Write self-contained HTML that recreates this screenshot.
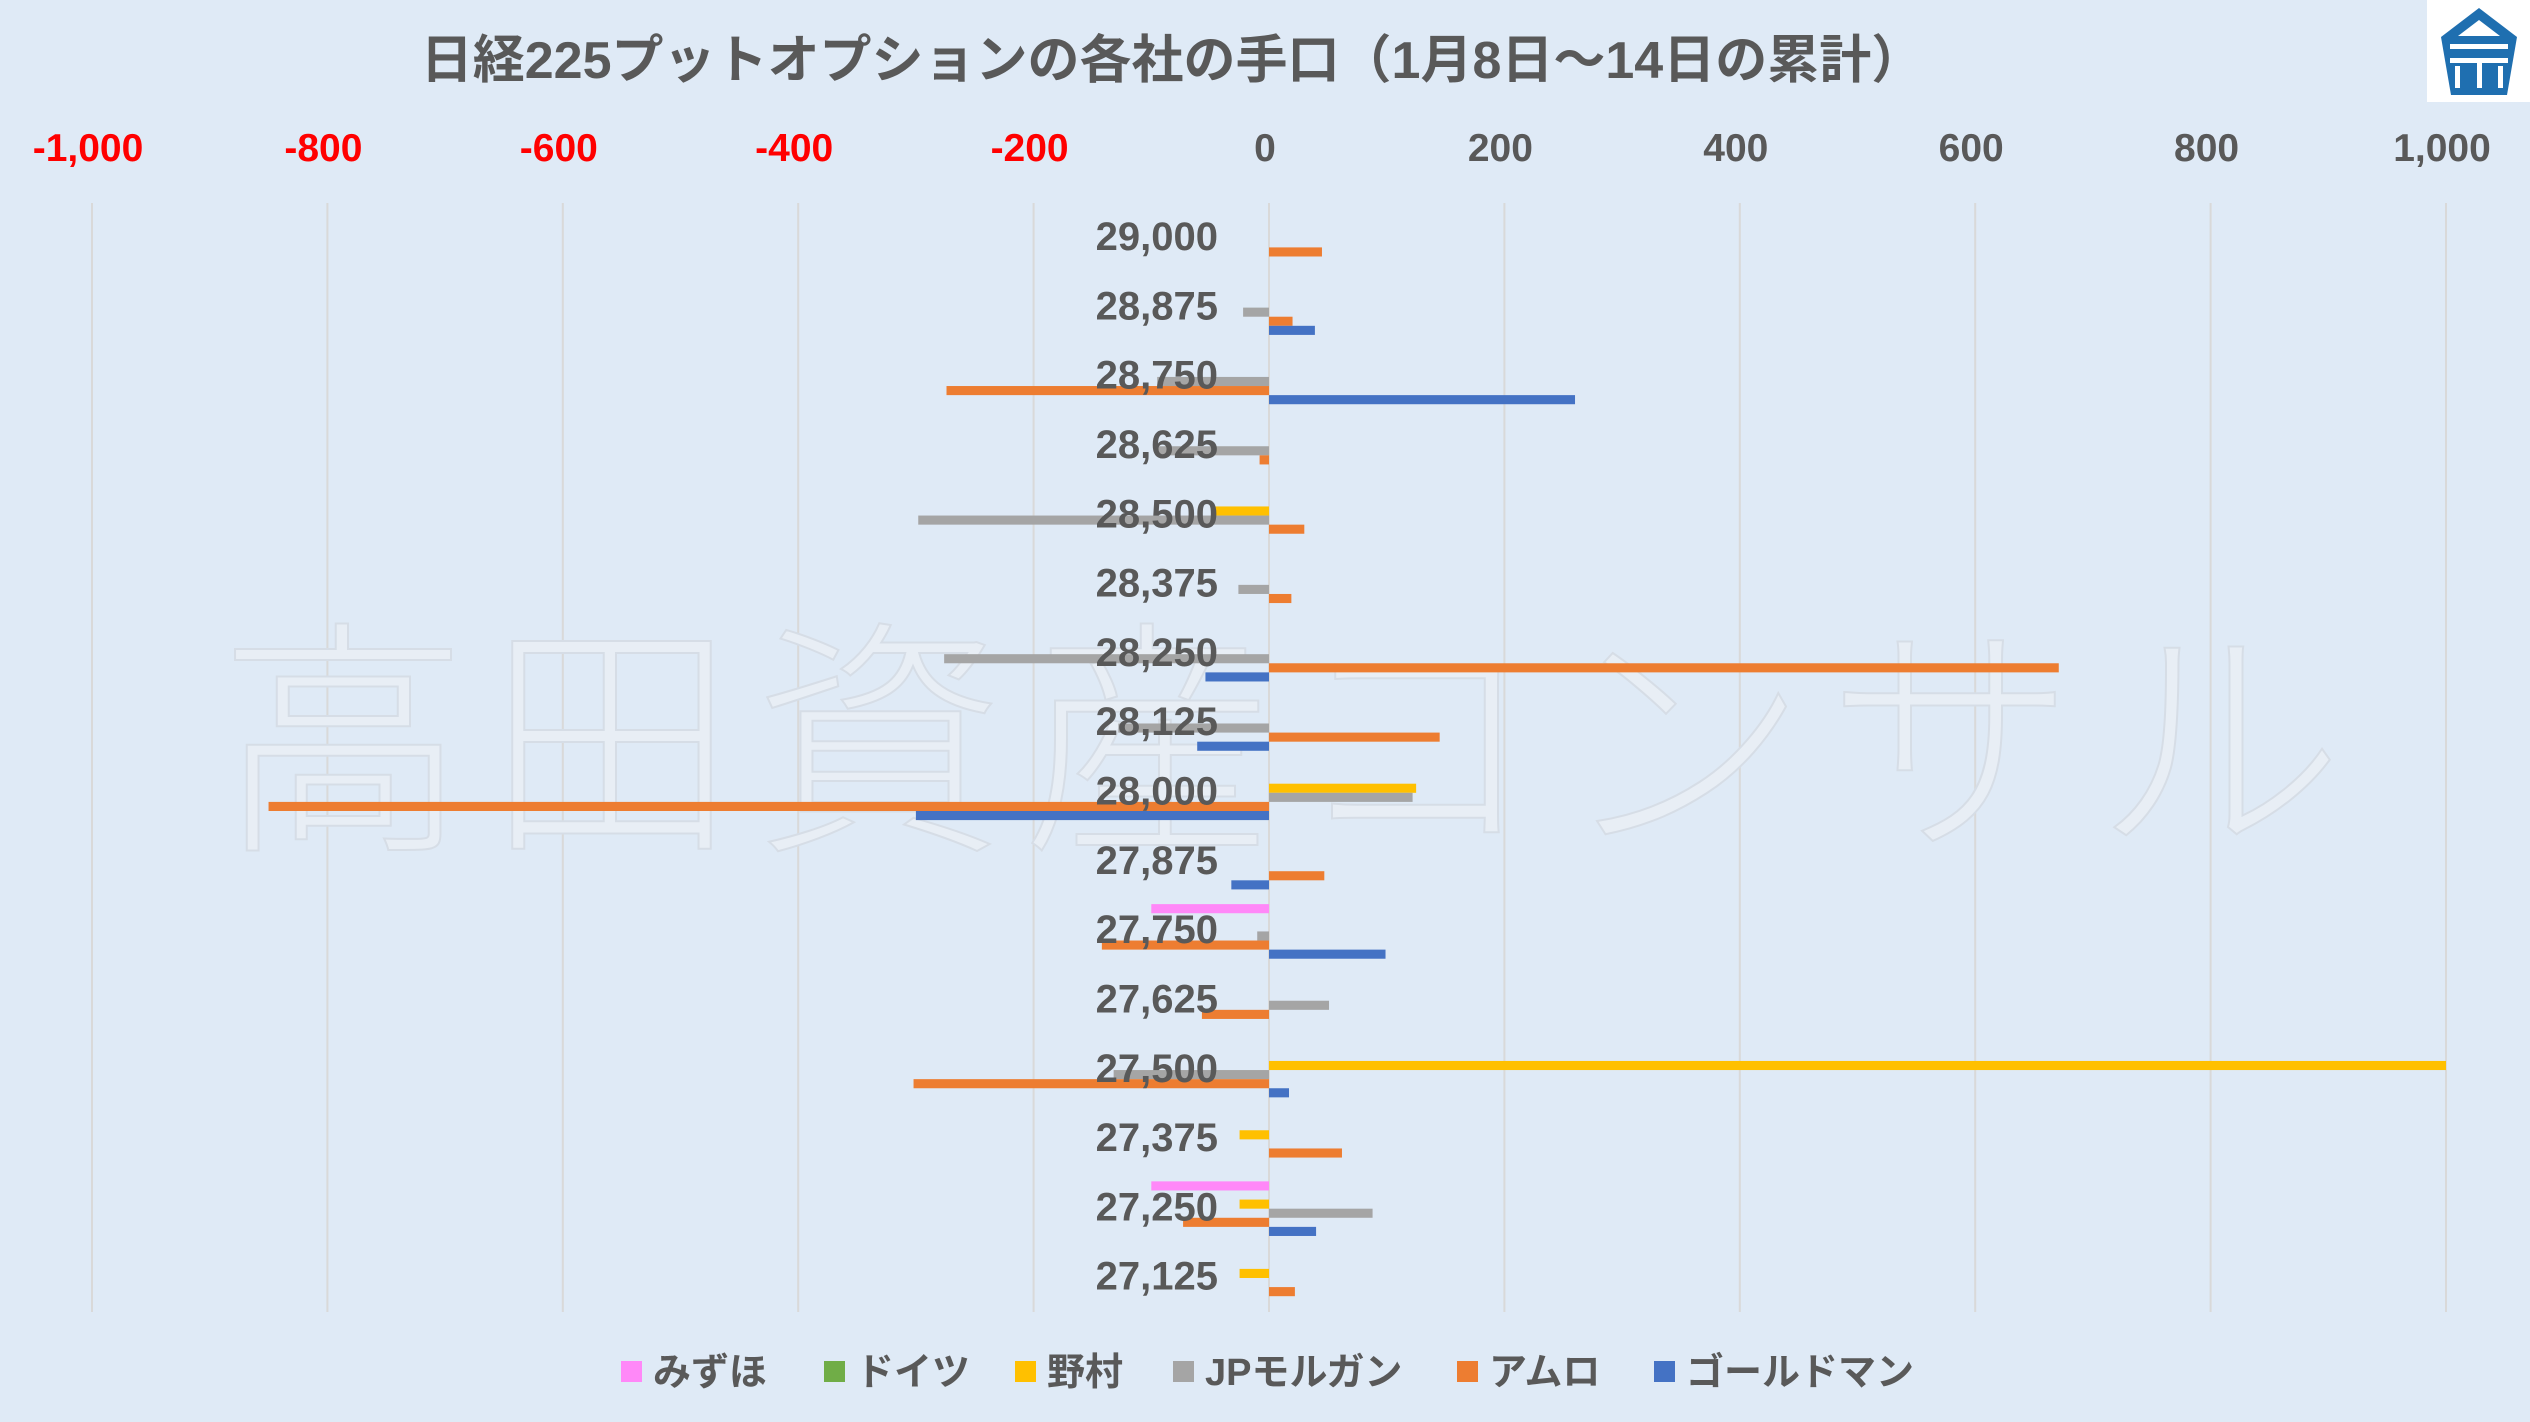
<!DOCTYPE html>
<html><head><meta charset="utf-8"><style>
html,body{margin:0;padding:0;background:#dfeaf6;}
svg{display:block;font-family:"Liberation Sans","Noto Sans CJK JP",sans-serif;}
</style></head><body>
<svg id="chart" width="2530" height="1422" viewBox="0 0 2530 1422" xmlns="http://www.w3.org/2000/svg">
<rect width="2530" height="1422" fill="#dfeaf6"/>
<g>
<rect x="2427" y="0" width="103" height="102" fill="#ffffff"/>
<path d="M2479 8 L2517 37 L2507 95 L2451 95 L2441 37 Z" fill="#1f6fb0"/>
<path d="M2479 20 L2500 36 L2458 36 Z" fill="#ffffff"/>
<rect x="2450" y="44" width="58" height="5" fill="#fff"/>
<rect x="2450" y="58" width="58" height="5" fill="#fff"/>
<rect x="2455" y="66" width="5" height="22" fill="#fff"/>
<rect x="2477" y="58" width="5" height="30" fill="#fff"/>
<rect x="2498" y="66" width="5" height="22" fill="#fff"/>
</g>
<text x="1172" y="78" text-anchor="middle" font-size="52" font-weight="bold" fill="#595959">日経225プットオプションの各社の手口（1月8日～14日の累計）</text>
<g id="grid"></g>
<g id="watermark">
<text x="1290" y="832" text-anchor="middle" font-size="250" font-family="'Noto Sans CJK JP',sans-serif" font-weight="300" fill="#e8eef5" stroke="#d6dde6" stroke-width="2" letter-spacing="18">高田資産コンサル</text>
</g>
<g id="bars"></g>
<g id="labels"></g>
<g id="legend"></g>
</svg>
<script>
const categories=["29,000","28,875","28,750","28,625","28,500","28,375","28,250","28,125","28,000","27,875","27,750","27,625","27,500","27,375","27,250","27,125"];
const seriesNames=["みずほ","ドイツ","野村","JPモルガン","アムロ","ゴールドマン"];
const mizuho=[0,0,0,0,0,0,0,0,0,0,-100,0,0,0,-100,0];
const deutsche=[0,0,0,0,0,0,0,0,0,0,0,0,0,0,0,0];
const nomura=[0,0,0,0,-49,0,0,0,125,0,0,0,1000,-25,-25,-25];
const jpm=[0,-22,-95,-96,-298,-26,-276,-128,122,0,-10,51,-132,0,88,0];
const amro=[45,20,-274,-8,30,19,671,145,-850,47,-142,-57,-302,62,-73,22];
const goldman=[0,39,260,0,0,0,-54,-61,-300,-32,99,0,17,0,40,0];
const ticks=[-1000,-800,-600,-400,-200,0,200,400,600,800,1000];
const tickLabels=["-1,000","-800","-600","-400","-200","0","200","400","600","800","1,000"];
const colors=["#ff88f8","#70ad47","#ffc000","#a5a5a5","#ed7d31","#4472c4"];
const series=[mizuho,deutsche,nomura,jpm,amro,goldman];
const NS="http://www.w3.org/2000/svg";
const plotX0=92,plotX1=2446,plotTop=203,plotBottom=1312;
function xs(v){return plotX0+(v+1000)/2000*(plotX1-plotX0);}
const band=(plotBottom-plotTop)/categories.length;
function ys(i){return plotTop+i*band;}
function mk(t,a,p){const e=document.createElementNS(NS,t);for(const k in a)e.setAttribute(k,a[k]);p.appendChild(e);return e;}
const grid=document.getElementById('grid');
ticks.forEach((t,i)=>{
 const l=mk('line',{x1:xs(t),x2:xs(t),y1:plotTop,y2:plotBottom,stroke:'#d9d9d9','stroke-width':2},grid);
 
 
 const tx=mk('text',{x:xs(t)-4,y:161,'text-anchor':'middle','font-size':39,'font-weight':'bold',fill:t<0?'#ff0000':'#595959'},grid);
 tx.textContent=tickLabels[i];
 
 
});
const bars=document.getElementById('bars');
const bh=9.1;
series.forEach((s,si)=>{
 s.forEach((v,i)=>{
  if(v===0)return;
  const y=ys(i)+8+si*bh;
  const r=mk('rect',{x:Math.min(xs(0),xs(v)),y:y,width:Math.abs(xs(v)-xs(0)),height:bh,fill:colors[si]},bars);
  
  
 });
});
const labels=document.getElementById('labels');
categories.forEach((c,i)=>{
 const t=mk('text',{x:1218,y:ys(i)+47,'text-anchor':'end','font-size':40,'font-weight':'bold',fill:'#595959'},labels);
 t.textContent=c;
 
 
});
const legend=document.getElementById('legend');
const lx=[621,824,1015,1173,1457,1654];
seriesNames.forEach((n,i)=>{
 const g=mk('g',{},legend);
 
 
 mk('rect',{x:lx[i],y:1361,width:21,height:21,fill:colors[i]},g);
 const t=mk('text',{x:lx[i]+32,y:1385,'font-size':38,'font-weight':'bold',fill:'#595959'},g);
 t.textContent=n;
});
</script>
</body></html>
